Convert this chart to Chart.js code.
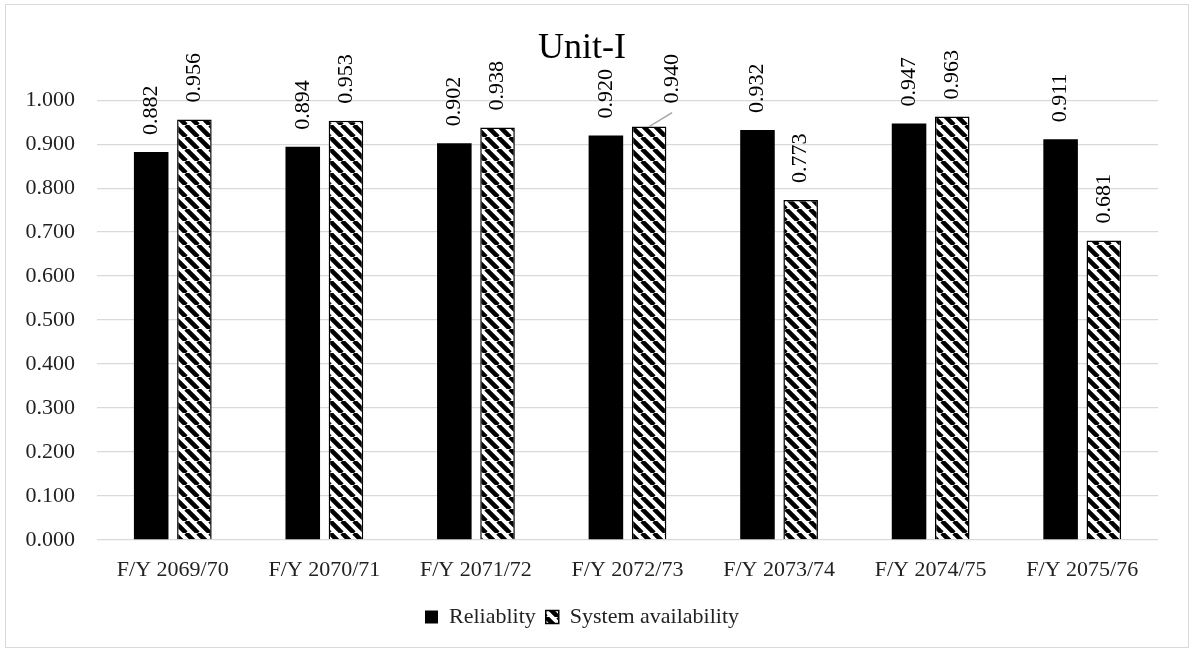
<!DOCTYPE html>
<html lang="en">
<head>
    <meta charset="UTF-8">
    <title>Unit-I</title>
    <script src="https://cdn.jsdelivr.net/npm/chart.js"></script>
    <style>
        body { margin: 0; background: #fff; }
        #wrap {
            position: absolute; left: 5px; top: 4px;
            width: 1182px; height: 642px;
            border: 1px solid #d9d9d9;
        }
    </style>
</head>
<body>
    <div id="wrap"><canvas id="chart"></canvas></div>

    <script>
        // chart data
        const categories = ['F/Y 2069/70', 'F/Y 2070/71', 'F/Y 2071/72', 'F/Y 2072/73',
                            'F/Y 2073/74', 'F/Y 2074/75', 'F/Y 2075/76'];
        const reliability = [0.882, 0.894, 0.902, 0.920, 0.932, 0.947, 0.911];
        const availability = [0.956, 0.953, 0.938, 0.940, 0.773, 0.963, 0.681];
        const seriesNames = ['Reliablity', 'System availability'];

        const serif = "'Liberation Serif', 'Times New Roman', serif";
        const textColor = '#222';

        const canvas = document.getElementById('chart');
        const ctx = canvas.getContext('2d');

        // wide downward diagonal hatch
        function makeHatch() {
            const s = 12;
            const c = document.createElement('canvas');
            c.width = s; c.height = s;
            const g = c.getContext('2d');
            g.fillStyle = '#fff';
            g.fillRect(0, 0, s, s);
            g.strokeStyle = '#000';
            g.lineWidth = 4.6;
            g.beginPath();
            for (let k = -1; k <= 1; k++) {
                g.moveTo(k * s, 0);
                g.lineTo(k * s + s, s);
            }
            g.stroke();
            return ctx.createPattern(c, 'repeat');
        }

        // value labels above bars, rotated
        const barLabels = {
            id: 'barLabels',
            afterDatasetsDraw(chart, args, opts) {
                const c = chart.ctx;
                c.save();
                c.font = '22px ' + serif;
                c.fillStyle = '#000';
                c.textAlign = 'left';
                c.textBaseline = 'middle';
                chart.data.datasets.forEach((ds, di) => {
                    chart.getDatasetMeta(di).data.forEach((bar, i) => {
                        const nudge = (opts.nudges || []).find(n => n.ds === di && n.i === i);
                        let x = bar.x, y = bar.y - opts.gap;
                        if (nudge) {
                            x += nudge.dx; y += nudge.dy;
                            c.strokeStyle = '#a6a6a6';
                            c.lineWidth = 1.5;
                            c.beginPath();
                            c.moveTo(bar.x, bar.y);
                            c.lineTo(x, y + 9);
                            c.stroke();
                        }
                        c.save();
                        c.translate(x, y);
                        c.rotate(-Math.PI / 2);
                        c.fillText(ds.data[i].toFixed(3), 0, 0);
                        c.restore();
                    });
                });
                c.restore();
            }
        };

        new Chart(ctx, {
            type: 'bar',
            data: {
                labels: categories,
                datasets: [{
                    label: seriesNames[0],
                    data: reliability,
                    backgroundColor: '#000',
                    borderWidth: 0,
                    categoryPercentage: 0.57,
                    barPercentage: 0.8
                }, {
                    label: seriesNames[1],
                    data: availability,
                    backgroundColor: makeHatch(),
                    borderColor: '#000',
                    borderWidth: 1.5,
                    categoryPercentage: 0.57,
                    barPercentage: 0.8
                }]
            },
            options: {
                responsive: true,
                maintainAspectRatio: false,
                devicePixelRatio: 1,
                animation: false,
                layout: { padding: { left: 0, right: 30, top: 0, bottom: 9 } },
                scales: {
                    x: {
                        grid: { display: false },
                        border: { display: false },
                        ticks: { font: { family: serif, size: 22 }, color: textColor, padding: 9 },
                        afterFit: (scale) => { scale.height = 56; }
                    },
                    y: {
                        min: 0,
                        max: 1,
                        grid: { color: '#d9d9d9', lineWidth: 1.3, drawTicks: false },
                        border: { display: false },
                        ticks: {
                            stepSize: 0.1,
                            font: { family: serif, size: 22 },
                            color: textColor,
                            padding: 22,
                            callback: (v) => v.toFixed(3)
                        },
                        afterFit: (scale) => { scale.width = 91; }
                    }
                },
                plugins: {
                    title: {
                        display: true,
                        text: 'Unit-I',
                        color: '#000',
                        font: { family: serif, size: 36, weight: 'normal' },
                        padding: { top: 22, bottom: 30 }
                    },
                    legend: {
                        position: 'bottom',
                        labels: {
                            font: { family: serif, size: 22 },
                            color: textColor,
                            boxWidth: 13,
                            boxHeight: 13,
                            padding: 10
                        }
                    },
                    tooltip: { enabled: false },
                    barLabels: {
                        gap: 17,
                        nudges: [{ ds: 1, i: 3, dx: 23, dy: -6 }]
                    }
                }
            },
            plugins: [barLabels]
        });
    </script>
</body>
</html>
